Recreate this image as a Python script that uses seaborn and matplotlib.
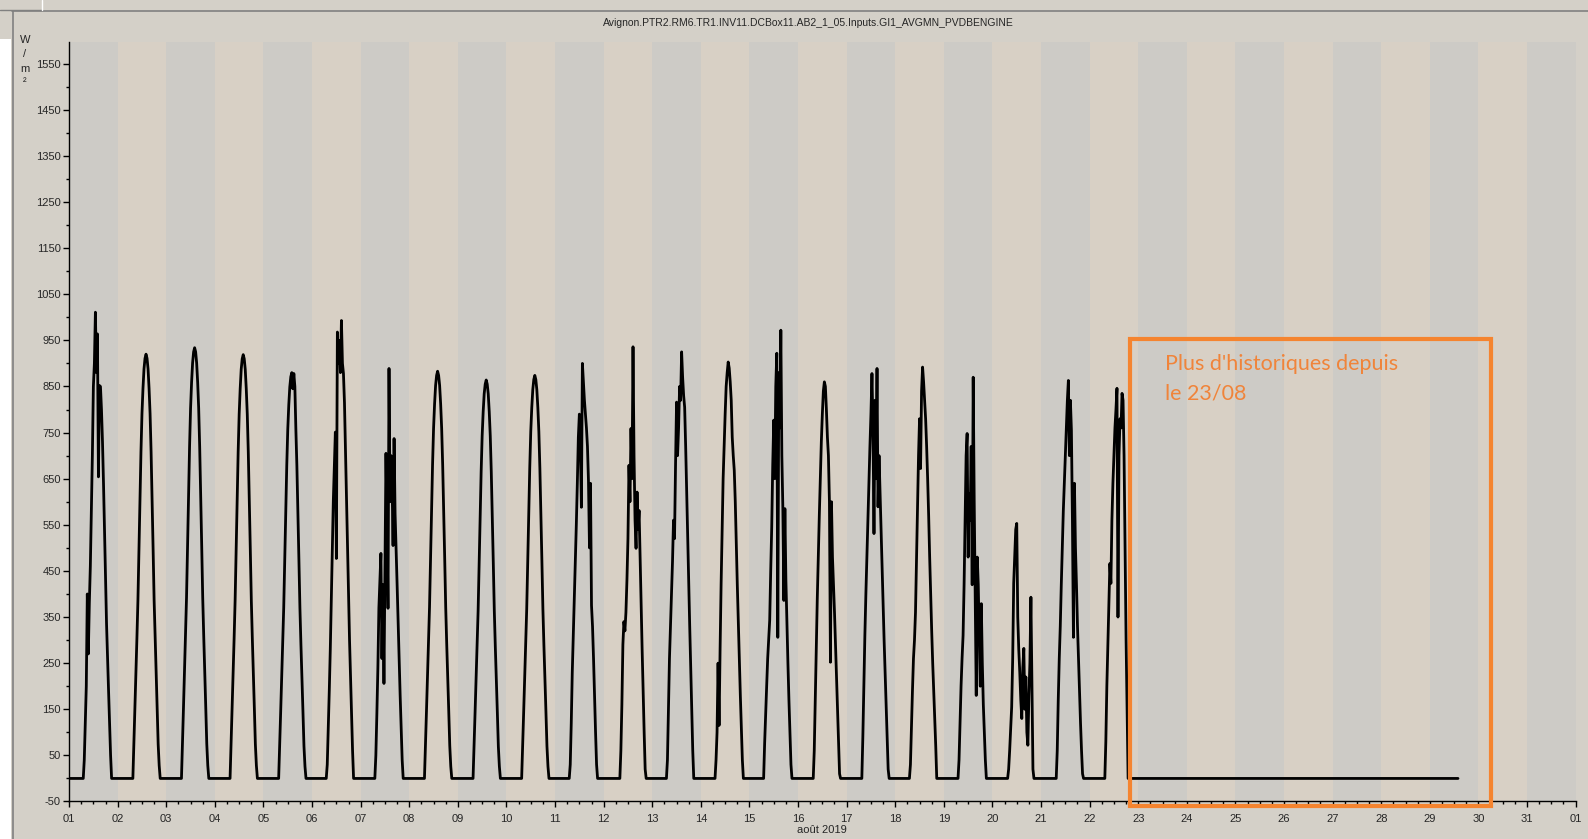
import numpy as np
import pandas as pd
import seaborn as sns
from matplotlib import pyplot as plt
from matplotlib.patches import Rectangle
from matplotlib.lines import Line2D

# half-hour grid of the daytime, hours 7h -> 21h
hours = [7.0, 7.5, 8.0, 8.5, 9.0, 9.5, 10.0, 10.5, 11.0, 11.5, 12.0, 12.5, 13.0, 13.5, 14.0,
         14.5, 15.0, 15.5, 16.0, 16.5, 17.0, 17.5, 18.0, 18.5, 19.0, 19.5, 20.0, 20.5, 21.0]

# irradiance W/m2, one list per day of august 2019
d01 = [0, 40, 120, 200, 400, 270, 380, 460, 580, 700, 850, 900, 1011, 880, 964, 654, 852, 850, 800, 730, 640, 540, 430, 335, 260, 190, 120, 50, 0]
d02 = [0, 0, 74, 152, 230, 304, 386, 497, 607, 708, 791, 846, 888, 911, 920, 911, 888, 846, 791, 708, 607, 497, 386, 304, 230, 152, 74, 28, 0]
d03 = [0, 0, 75, 154, 234, 308, 392, 504, 616, 719, 803, 859, 901, 925, 934, 925, 901, 859, 803, 719, 616, 504, 392, 308, 234, 154, 75, 28, 0]
d04 = [0, 0, 74, 152, 230, 303, 386, 496, 607, 708, 790, 845, 887, 910, 919, 910, 887, 845, 790, 708, 607, 496, 386, 303, 230, 152, 74, 28, 0]
d05 = [0, 0, 70, 145, 220, 290, 370, 475, 581, 678, 757, 810, 849, 871, 880, 845, 878, 850, 757, 678, 581, 475, 370, 290, 220, 145, 70, 26, 0]
d06 = [0, 30, 110, 190, 280, 390, 500, 603, 680, 751, 477, 968, 900, 950, 880, 993, 900, 878, 815, 710, 605, 500, 395, 300, 220, 140, 60, 0, 0]
d07 = [0, 50, 140, 240, 370, 430, 488, 260, 420, 206, 460, 705, 560, 369, 889, 600, 700, 640, 505, 737, 574, 500, 420, 340, 260, 180, 110, 40, 0]
d08 = [0, 0, 71, 146, 221, 291, 371, 477, 583, 680, 759, 812, 852, 874, 883, 874, 852, 812, 759, 680, 583, 477, 371, 291, 221, 146, 71, 26, 0]
d09 = [0, 0, 69, 143, 216, 285, 363, 467, 570, 665, 743, 795, 834, 855, 864, 855, 834, 795, 743, 665, 570, 467, 363, 285, 216, 143, 69, 26, 0]
d10 = [0, 0, 70, 144, 219, 288, 367, 472, 577, 673, 752, 804, 843, 865, 874, 865, 843, 804, 752, 673, 577, 472, 367, 288, 219, 144, 70, 26, 0]
d11 = [0, 30, 120, 230, 310, 390, 470, 550, 640, 740, 790, 720, 588, 900, 860, 820, 790, 760, 720, 646, 500, 640, 375, 330, 260, 180, 100, 30, 0]
d12 = [0, 0, 0, 60, 160, 290, 340, 320, 360, 430, 520, 679, 600, 759, 650, 936, 700, 560, 499, 621, 540, 581, 480, 380, 280, 190, 100, 20, 0]
d13 = [0, 40, 150, 260, 330, 400, 470, 560, 520, 680, 816, 700, 760, 850, 820, 925, 870, 830, 805, 720, 620, 520, 420, 330, 240, 150, 60, 0, 0]
d14 = [0, 40, 100, 250, 115, 280, 420, 540, 650, 720, 790, 850, 880, 903, 890, 860, 820, 740, 700, 668, 600, 510, 420, 340, 260, 180, 110, 40, 0]
d15 = [0, 76, 140, 200, 260, 300, 343, 450, 545, 680, 777, 650, 850, 922, 306, 880, 760, 972, 700, 585, 386, 585, 430, 340, 250, 170, 100, 30, 0]
d16 = [0, 0, 60, 170, 290, 390, 480, 570, 650, 730, 790, 840, 860, 850, 800, 740, 700, 600, 252, 600, 480, 420, 360, 290, 220, 150, 80, 10, 0]
d17 = [0, 0, 90, 200, 310, 400, 480, 560, 640, 720, 790, 878, 760, 531, 820, 650, 889, 589, 700, 620, 540, 460, 380, 300, 230, 160, 90, 20, 0]
d18 = [0, 30, 110, 190, 260, 300, 360, 470, 580, 700, 780, 672, 840, 892, 860, 820, 780, 720, 650, 570, 480, 400, 320, 250, 190, 130, 70, 0, 0]
d19 = [0, 40, 120, 200, 260, 310, 420, 560, 700, 748, 480, 618, 560, 720, 420, 870, 600, 380, 180, 480, 420, 300, 200, 379, 250, 160, 100, 40, 0]
d20 = [0, 0, 20, 60, 110, 155, 260, 423, 480, 540, 553, 350, 280, 230, 170, 130, 240, 282, 150, 220, 100, 72, 180, 250, 393, 200, 20, 0, 0]
d21 = [0, 0, 60, 170, 260, 330, 420, 500, 580, 640, 697, 760, 820, 863, 700, 820, 755, 560, 306, 640, 500, 420, 330, 260, 190, 120, 60, 10, 0]
d22 = [0, 0, 80, 200, 290, 380, 466, 423, 560, 640, 700, 760, 800, 846, 350, 700, 780, 760, 835, 820, 700, 500, 300, 150, 0, 0, 0, 0, 0]
days = [d01, d02, d03, d04, d05, d06, d07, d08, d09, d10, d11, d12, d13, d14, d15, d16, d17, d18, d19, d20, d21, d22]

# after the 22nd the tag only gives 0 until the 29th ~14h
flat_end = 28.58

xlabels = ['%02d' % d for d in range(1, 32)] + ['01']

rows = [(0.0, 0)]
for i, vals in enumerate(days):
    for h, v in zip(hours, vals):
        rows.append((i + h / 24, v))
rows.append((flat_end, 0))
df = pd.DataFrame(rows, columns=['t', 'irr'])

sns.set_style('ticks')
plt.rcParams['font.family'] = ['Liberation Sans', 'DejaVu Sans']
plt.rcParams['font.size'] = 8
plt.rcParams['axes.unicode_minus'] = False

fig = plt.figure(figsize=(15.88, 8.39), dpi=100, facecolor='#d4d0c8')
ax = fig.add_axes([0.0435, 0.0447, 0.9487, 0.9058])
ax.set_facecolor('#d4d0c8')

# alternating day bands
for d in range(31):
    ax.axvspan(d, d + 1, color='#cdcbc6' if d % 2 == 0 else '#d8d0c5', lw=0, zorder=0)

sns.lineplot(data=df, x='t', y='irr', color='black', lw=2.0, estimator=None, sort=False, ax=ax)

ax.set_xlim(0, 31)
ax.set_ylim(-50, 1598)
ax.set_xticks(range(32))
ax.set_xticklabels(xlabels)
ax.set_xticks(np.arange(0, 31.01, 0.25), minor=True)
ax.set_yticks(range(-50, 1600, 100))
ax.set_yticks(range(0, 1600, 100), minor=True)
ax.tick_params(axis='both', which='major', length=4, width=1, color='black', labelsize=8, pad=2)
ax.tick_params(axis='both', which='minor', length=2, width=1, color='black')
ax.tick_params(axis='x', which='major', pad=5)
ax.set_xlabel('août 2019', fontsize=8, labelpad=1)
ax.set_ylabel('')
for s in ['top', 'right']:
    ax.spines[s].set_visible(False)
for s in ['left', 'bottom']:
    ax.spines[s].set_color('black')
    ax.spines[s].set_linewidth(1)

fig.text(808 / 1588, 1 - 23 / 839, 'Avignon.PTR2.RM6.TR1.INV11.DCBox11.AB2_1_05.Inputs.GI1_AVGMN_PVDBENGINE',
         ha='center', va='center', fontsize=7.5)

# stacked unit label
for ch, yp in zip(['W', '/', 'm', '²'], [40, 54, 69, 82]):
    fig.text(25 / 1588, 1 - yp / 839, ch, ha='center', va='center', fontsize=8)

# annotation box
ax.add_patch(Rectangle((21.83, -59), 29.25 - 21.83, 952 + 59, fill=False,
                       ec='#f5842f', lw=3, clip_on=False, zorder=5))
ax.text(22.55, 920, "Plus d'historiques depuis\nle 23/08", color='#f0843a', fontsize=15.5,
        family=['Lato', 'DejaVu Sans'], ha='left', va='top', linespacing=1.6, zorder=6)

# window frame bits
fig.patches.append(Rectangle((0, 0), 11 / 1588, 1 - 39 / 839, transform=fig.transFigure,
                             fc='white', ec='none'))
fig.add_artist(Line2D([12.5 / 1588, 12.5 / 1588], [0, 1 - 11 / 839], transform=fig.transFigure,
                      color='#808080', lw=1.2))
fig.add_artist(Line2D([12 / 1588, 1], [1 - 11 / 839, 1 - 11 / 839], transform=fig.transFigure,
                      color='#808080', lw=1.2))
fig.add_artist(Line2D([0, 42 / 1588], [1 - 10 / 839, 1 - 10 / 839], transform=fig.transFigure,
                      color='#808080', lw=1))
fig.add_artist(Line2D([42 / 1588, 42 / 1588], [1 - 10 / 839, 1], transform=fig.transFigure,
                      color='white', lw=1))

fig.savefig('out.png', dpi=100, facecolor=fig.get_facecolor())
